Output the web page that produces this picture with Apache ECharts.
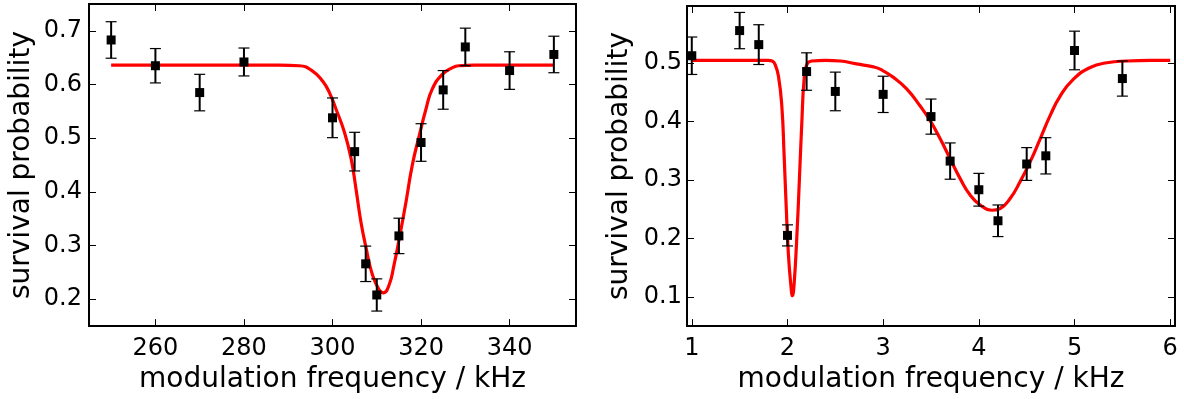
<!DOCTYPE html>
<html>
<head>
<meta charset="utf-8">
<script src="https://cdn.jsdelivr.net/npm/echarts@6/dist/echarts.min.js"></script>
<style>
html,body{margin:0;padding:0;background:#fff;}
#chart{width:1184px;height:399px;}
</style>
</head>
<body>
<div id="chart"></div>
<script>
// ---- Left panel data ----
var leftFreq = [250, 260, 270, 280, 300, 305, 307.5, 310, 315, 320, 325, 330, 340, 350];
var leftProb = [0.683, 0.635, 0.585, 0.642, 0.538, 0.475, 0.266, 0.208, 0.318, 0.492, 0.590, 0.670, 0.626, 0.656];
var leftErr  = [0.034, 0.032, 0.034, 0.026, 0.037, 0.036, 0.033, 0.030, 0.033, 0.035, 0.036, 0.035, 0.035, 0.034];
var leftFitX = [250, 260, 270, 280, 288, 292.5, 295.5, 297.8, 299.3, 300.8, 302.7, 304.2, 305.3, 306.4, 307.6, 309.0, 310.5, 311.5, 312.8, 313.9, 315.1, 316.6, 318.0, 319.6, 321.1, 322.5, 324.8, 327.0, 328.5, 332, 340, 350];
var leftFitY = [0.636, 0.636, 0.636, 0.636, 0.636, 0.635, 0.625, 0.606, 0.585, 0.554, 0.511, 0.462, 0.406, 0.345, 0.295, 0.246, 0.218, 0.212, 0.227, 0.264, 0.314, 0.381, 0.449, 0.505, 0.554, 0.591, 0.619, 0.631, 0.635, 0.636, 0.636, 0.636];
var leftXTicks = [260, 280, 300, 320, 340];
var leftYTicks = [0.2, 0.3, 0.4, 0.5, 0.6, 0.7];

// ---- Right panel data ----
var rightFreq = [1.0, 1.5, 1.7, 2.0, 2.2, 2.5, 3.0, 3.5, 3.7, 4.0, 4.2, 4.5, 4.7, 5.0, 5.5];
var rightProb = [0.512, 0.555, 0.531, 0.205, 0.485, 0.451, 0.446, 0.408, 0.332, 0.283, 0.230, 0.327, 0.341, 0.521, 0.473];
var rightErr  = [0.032, 0.031, 0.034, 0.018, 0.032, 0.033, 0.031, 0.030, 0.031, 0.028, 0.027, 0.028, 0.031, 0.033, 0.030];
var rightFitX = [1.0, 1.5, 1.8, 1.84, 1.871, 1.906, 1.941, 1.965, 1.986, 2.010, 2.035, 2.052, 2.069, 2.097, 2.125, 2.150, 2.174, 2.202, 2.254, 2.4, 2.55, 2.72, 2.9, 2.968, 3.108, 3.248, 3.387, 3.491, 3.596, 3.700, 3.805, 3.909, 4.014, 4.136, 4.223, 4.327, 4.432, 4.537, 4.641, 4.746, 4.850, 4.989, 5.164, 5.338, 5.547, 5.8, 6.0];
var rightFitY = [0.504, 0.504, 0.504, 0.503, 0.497, 0.477, 0.426, 0.342, 0.257, 0.172, 0.121, 0.102, 0.121, 0.200, 0.302, 0.398, 0.472, 0.497, 0.503, 0.504, 0.503, 0.498, 0.493, 0.489, 0.475, 0.455, 0.426, 0.401, 0.370, 0.336, 0.302, 0.274, 0.257, 0.248, 0.251, 0.268, 0.297, 0.331, 0.370, 0.410, 0.443, 0.472, 0.492, 0.500, 0.503, 0.504, 0.504];
var rightXTicks = [1, 2, 3, 4, 5, 6];
var rightYTicks = [0.1, 0.2, 0.3, 0.4, 0.5];

var xName = 'modulation frequency / kHz';
var yName = 'survival probability';

function zip2(a, b) { return a.map(function (v, i) { return [v, b[i]]; }); }
function zip3(a, b, c) { return a.map(function (v, i) { return [v, b[i], c[i]]; }); }

var FONT = 'DejaVu Sans';

function errRender(params, api) {
  var x = api.value(0), y = api.value(1), e = api.value(2);
  var top = api.coord([x, y + e]);
  var bot = api.coord([x, y - e]);
  var hc = 5.5;
  return {
    type: 'group',
    children: [
      { type: 'line', shape: { x1: top[0], y1: top[1], x2: bot[0], y2: bot[1] }, style: { stroke: '#000', lineWidth: 2 } },
      { type: 'line', shape: { x1: top[0] - hc, y1: top[1], x2: top[0] + hc, y2: top[1] }, style: { stroke: '#000', lineWidth: 1.2 } },
      { type: 'line', shape: { x1: bot[0] - hc, y1: bot[1], x2: bot[0] + hc, y2: bot[1] }, style: { stroke: '#000', lineWidth: 1.2 } }
    ]
  };
}

function mainX(grid, min, max, ticks) {
  return {
    type: 'value', gridIndex: grid, min: min, max: max, position: 'bottom',
    name: xName, nameLocation: 'middle', nameGap: 39,
    nameTextStyle: { fontFamily: FONT, fontSize: 28, color: '#000' },
    axisLine: { show: false },
    axisTick: { show: true, inside: true, length: 7, customValues: ticks, lineStyle: { color: '#000', width: 1 } },
    axisLabel: { show: true, customValues: ticks, margin: 11, fontFamily: FONT, fontSize: 24, color: '#000' },
    splitLine: { show: false }
  };
}
function mirrorX(grid, min, max, ticks) {
  return {
    type: 'value', gridIndex: grid, min: min, max: max, position: 'top',
    axisLine: { show: false },
    axisTick: { show: true, inside: true, length: 7, customValues: ticks, lineStyle: { color: '#000', width: 1 } },
    axisLabel: { show: false, customValues: ticks },
    splitLine: { show: false }
  };
}
function mainY(grid, min, max, ticks, margin) {
  return {
    type: 'value', gridIndex: grid, min: min, max: max, position: 'left',
    name: yName, nameLocation: 'middle', nameGap: 53, nameRotate: 90,
    nameTextStyle: { fontFamily: FONT, fontSize: 28, color: '#000' },
    axisLine: { show: false },
    axisTick: { show: true, inside: true, length: 7, customValues: ticks, lineStyle: { color: '#000', width: 1 } },
    axisLabel: { show: true, customValues: ticks, margin: margin, fontFamily: FONT, fontSize: 24, color: '#000',
      formatter: function (v) { return v.toFixed(1); } },
    splitLine: { show: false }
  };
}
function mirrorY(grid, min, max, ticks) {
  return {
    type: 'value', gridIndex: grid, min: min, max: max, position: 'right',
    axisLine: { show: false },
    axisTick: { show: true, inside: true, length: 7, customValues: ticks, lineStyle: { color: '#000', width: 1 } },
    axisLabel: { show: false, customValues: ticks },
    splitLine: { show: false }
  };
}

var chart = echarts.init(document.getElementById('chart'), null, { renderer: 'canvas' });
var option = {
  animation: false,
  backgroundColor: '#fff',
  grid: [
    { left: 89, top: 4, width: 487, height: 324, show: true, borderColor: '#000', borderWidth: 2, backgroundColor: 'transparent', containLabel: false },
    { left: 687, top: 6, width: 488, height: 322, show: true, borderColor: '#000', borderWidth: 2, backgroundColor: 'transparent', containLabel: false }
  ],
  xAxis: [
    mainX(0, 245, 355, leftXTicks),
    mirrorX(0, 245, 355, leftXTicks),
    mainX(1, 0.95, 6.05, rightXTicks),
    mirrorX(1, 0.95, 6.05, rightXTicks)
  ],
  yAxis: [
    mainY(0, 0.15, 0.75, leftYTicks, 7),
    mirrorY(0, 0.15, 0.75, leftYTicks),
    mainY(1, 0.05, 0.597, rightYTicks, 5),
    mirrorY(1, 0.05, 0.597, rightYTicks)
  ],
  series: [
    { type: 'line', xAxisIndex: 0, yAxisIndex: 0, data: zip2(leftFitX, leftFitY), showSymbol: false, smooth: true,
      lineStyle: { color: '#ff0000', width: 3.2 }, z: 2, silent: true },
    { type: 'custom', xAxisIndex: 0, yAxisIndex: 0, data: zip3(leftFreq, leftProb, leftErr), renderItem: errRender,
      encode: { x: 0, y: 1 }, z: 3, silent: true },
    { type: 'scatter', xAxisIndex: 0, yAxisIndex: 0, data: zip2(leftFreq, leftProb), symbol: 'rect', symbolSize: 9,
      itemStyle: { color: '#000', opacity: 1 }, z: 4, silent: true },
    { type: 'line', xAxisIndex: 2, yAxisIndex: 2, data: zip2(rightFitX, rightFitY), showSymbol: false, smooth: true,
      lineStyle: { color: '#ff0000', width: 3.2 }, z: 2, silent: true },
    { type: 'custom', xAxisIndex: 2, yAxisIndex: 2, data: zip3(rightFreq, rightProb, rightErr), renderItem: errRender,
      encode: { x: 0, y: 1 }, z: 3, silent: true },
    { type: 'scatter', xAxisIndex: 2, yAxisIndex: 2, data: zip2(rightFreq, rightProb), symbol: 'rect', symbolSize: 9,
      itemStyle: { color: '#000', opacity: 1 }, z: 4, silent: true }
  ]
};
chart.setOption(option);
</script>
</body>
</html>
